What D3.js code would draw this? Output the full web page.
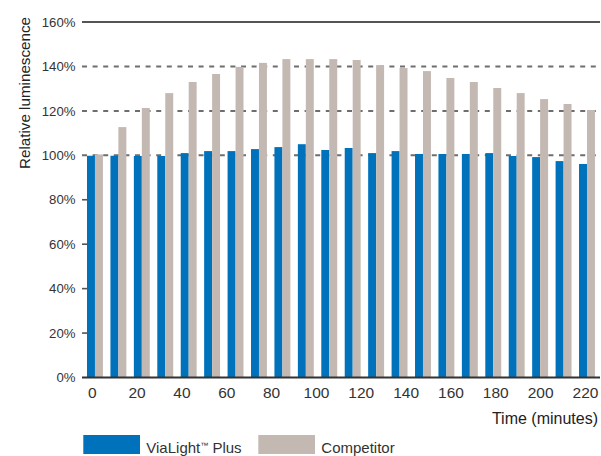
<!DOCTYPE html>
<html>
<head>
<meta charset="utf-8">
<script src="https://cdn.jsdelivr.net/npm/d3@7"></script>
<style>
  html, body { margin: 0; padding: 0; background: #fff; }
  svg { display: block; font-family: "Liberation Sans", Arial, sans-serif; }
</style>
</head>
<body>
<svg id="chart" width="601" height="456"></svg>
<script>
// ---- data ----
const samples = ["0","10","21","31","42","52","63","73","84","94","105","115","126","136","147","157","168","178","189","199","210","220"];
const viaLight = [99.8, 99.8, 99.7, 99.7, 101.0, 101.9, 101.9, 102.8, 103.7, 105.0, 102.4,
                  103.3, 101.0, 101.9, 100.6, 100.6, 100.6, 101.0, 99.7, 99.2, 97.4, 96.1];
const competitor = [100.4, 112.7, 121.3, 128.0, 133.0, 136.6, 139.8, 141.6, 143.3, 143.3, 143.3,
                    142.9, 140.6, 139.3, 137.9, 134.8, 133.0, 130.3, 128.0, 125.3, 123.1, 120.4];
const seriesNames = ["ViaLight\u2122 Plus", "Competitor"];
const xTickLabels = [0, 20, 40, 60, 80, 100, 120, 140, 160, 180, 200, 220];
const yTicks = [0, 20, 40, 60, 80, 100, 120, 140, 160];
const dashedTicks = [100, 120, 140];
const shortTicks = [20, 40, 60, 80];
const colors = ["#0072bc", "#c3b9b2"];

// ---- layout ----
const svg = d3.select("#chart");
const gridLeft = 82, gridRight = 600;

const y = d3.scaleLinear().domain([0, 160]).range([377.5, 22]);
const x = d3.scaleBand().domain(samples).range([83.25, 598.7]).paddingInner(0.32).paddingOuter(0.16);
const xSub = d3.scaleBand().domain([0, 1]).range([0, x.bandwidth()]);
const c0 = x(samples[0]) + x.bandwidth() / 2;
const cN = x(samples[samples.length - 1]) + x.bandwidth() / 2;
const xTime = d3.scaleLinear().domain([0, 220]).range([c0 - 2.7, cN - 1.5]);

// dashed gridlines (behind bars)
svg.append("g").selectAll("line").data(dashedTicks).join("line")
  .attr("x1", gridLeft).attr("x2", gridRight)
  .attr("y1", d => y(d)).attr("y2", d => y(d))
  .attr("stroke", "#6e6e6e").attr("stroke-width", 2)
  .attr("stroke-dasharray", "5,5.6");

// short ticks
svg.append("g").selectAll("line").data(shortTicks).join("line")
  .attr("x1", gridLeft).attr("x2", gridLeft + 5)
  .attr("y1", d => y(d)).attr("y2", d => y(d))
  .attr("stroke", "#555").attr("stroke-width", 1.6);

// top solid line
svg.append("line")
  .attr("x1", gridLeft).attr("x2", gridRight)
  .attr("y1", y(160)).attr("y2", y(160))
  .attr("stroke", "#555").attr("stroke-width", 2);

// bars
const groups = svg.append("g").selectAll("g").data(samples).join("g")
  .attr("transform", d => `translate(${x(d)},0)`);
groups.selectAll("rect")
  .data((d, i) => [viaLight[i], competitor[i]])
  .join("rect")
  .attr("x", (d, j) => xSub(j))
  .attr("width", xSub.bandwidth())
  .attr("y", d => y(d))
  .attr("height", d => y(0) - y(d))
  .attr("fill", (d, j) => colors[j]);

// baseline
svg.append("line")
  .attr("x1", gridLeft).attr("x2", gridRight)
  .attr("y1", y(0)).attr("y2", y(0))
  .attr("stroke", "#333").attr("stroke-width", 2);

// y tick labels
svg.append("g").selectAll("text").data(yTicks).join("text")
  .attr("x", 75.5).attr("y", d => y(d) + 4.7)
  .attr("text-anchor", "end")
  .attr("font-size", 13.2).attr("fill", "#333")
  .text(d => d + "%");

// x tick labels
svg.append("g").selectAll("text").data(xTickLabels).join("text")
  .attr("x", d => xTime(d)).attr("y", 397.5)
  .attr("text-anchor", "middle")
  .attr("font-size", 15.5).attr("fill", "#333")
  .text(d => d);

// axis titles
svg.append("text")
  .attr("transform", "translate(29.5,93) rotate(-90)")
  .attr("text-anchor", "middle")
  .attr("font-size", 15.2).attr("fill", "#222")
  .text("Relative luminescence");

svg.append("text")
  .attr("x", 598).attr("y", 424)
  .attr("text-anchor", "end")
  .attr("font-size", 16).attr("fill", "#222")
  .text("Time (minutes)");

// legend
const legendX = [83.3, 258.3];
const leg = svg.append("g").selectAll("g").data(seriesNames).join("g")
  .attr("transform", (d, i) => `translate(${legendX[i]},435)`);
leg.append("rect")
  .attr("width", 56.7).attr("height", 19)
  .attr("fill", (d, i) => colors[i]);
leg.append("text")
  .attr("x", 63).attr("y", 18)
  .attr("font-size", 15).attr("fill", "#333")
  .each(function(d) {
    const t = d3.select(this);
    if (d.includes("\u2122")) {
      const parts = d.split("\u2122");
      t.append("tspan").text(parts[0]);
      t.append("tspan").attr("font-size", 8).attr("dy", -5).text("\u2122");
      t.append("tspan").attr("dy", 5).text(parts[1]);
    } else {
      t.text(d);
    }
  });
</script>
</body>
</html>
